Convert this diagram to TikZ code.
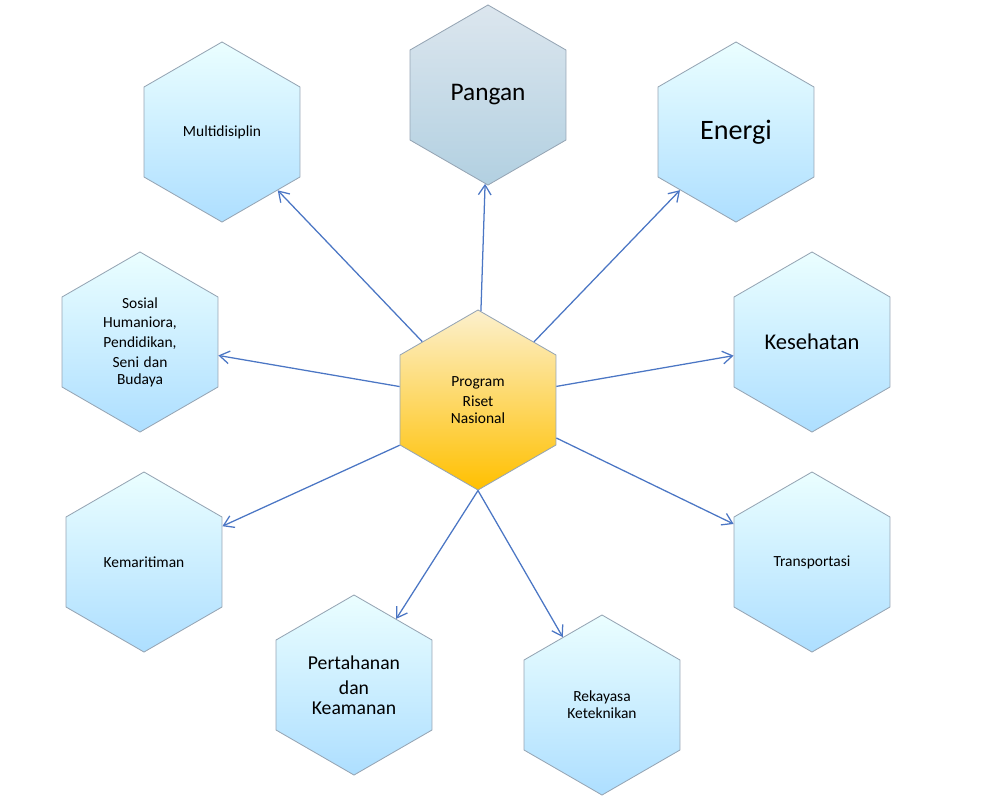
\documentclass[tikz,border=0pt]{standalone}
\usepackage{fontspec}
\setmainfont{Carlito}
\usetikzlibrary{shapes.geometric,arrows.meta}
\definecolor{hexline}{RGB}{150,165,180}
\definecolor{arrowblue}{RGB}{75,118,196}
\tikzset{
  hex/.style={regular polygon, regular polygon sides=6, shape border rotate=30,
    minimum size=4.5cm, inner sep=0pt, draw=hexline, line width=0.6pt,
    top color=blue!4!cyan!8, bottom color=cyan!25!blue!20!white!85!cyan,
    align=center, text width=2.6cm},
  link/.style={draw=arrowblue, line width=0.9pt, -{Straight Barb[length=7pt,width=9pt]}}
}
\begin{document}
\begin{tikzpicture}[x=0.025cm, y=-0.025cm]
    \useasboundingbox (0,0) rectangle (1000,805);
    \node [hex] (multi) at (222,132) {\fontsize{11}{13}\selectfont Multidisiplin};
    \node [hex, top color={rgb,255:red,220;green,230;blue,238}, bottom color={rgb,255:red,178;green,208;blue,225}] (pangan) at (488,95) {\fontsize{18}{20}\selectfont Pangan};
    \node [hex] (energi) at (736,132) {\fontsize{20}{22}\selectfont Energi};
    \node [hex] (sosial) at (140,342) {\fontsize{11}{14}\selectfont Sosial\\Humaniora,\\Pendidikan,\\Seni dan\\Budaya};
    \node [hex] (sehat) at (812,342) {\fontsize{16}{18}\selectfont Kesehatan};
    \node [hex] (maritim) at (144,562) {\fontsize{11}{13}\selectfont Kemaritiman};
    \node [hex] (trans) at (812,562) {\fontsize{11}{13}\selectfont Transportasi};
    \node [hex] (tahan) at (354,685) {\fontsize{14}{17}\selectfont Pertahanan\\[1pt] dan\\[2pt] Keamanan};
    \node [hex] (rekayasa) at (602,705) {\fontsize{11}{14}\selectfont Rekayasa\\Keteknikan};
    % pusat
    \node [hex, top color={rgb,255:red,252;green,240;blue,205}, bottom color={rgb,255:red,255;green,192;blue,0}] (prn) at (478,400) {\fontsize{11}{14}\selectfont Program\\Riset\\Nasional};
    \foreach \t in {multi,pangan,energi,sosial,sehat,trans}
      \draw [link] (prn) -- (\t);
    \draw [link] (prn.210) -- (maritim);
    \draw [link] (prn.south) -- (tahan);
    \draw [link] (prn.south) -- (rekayasa);
\end{tikzpicture}
\end{document}
